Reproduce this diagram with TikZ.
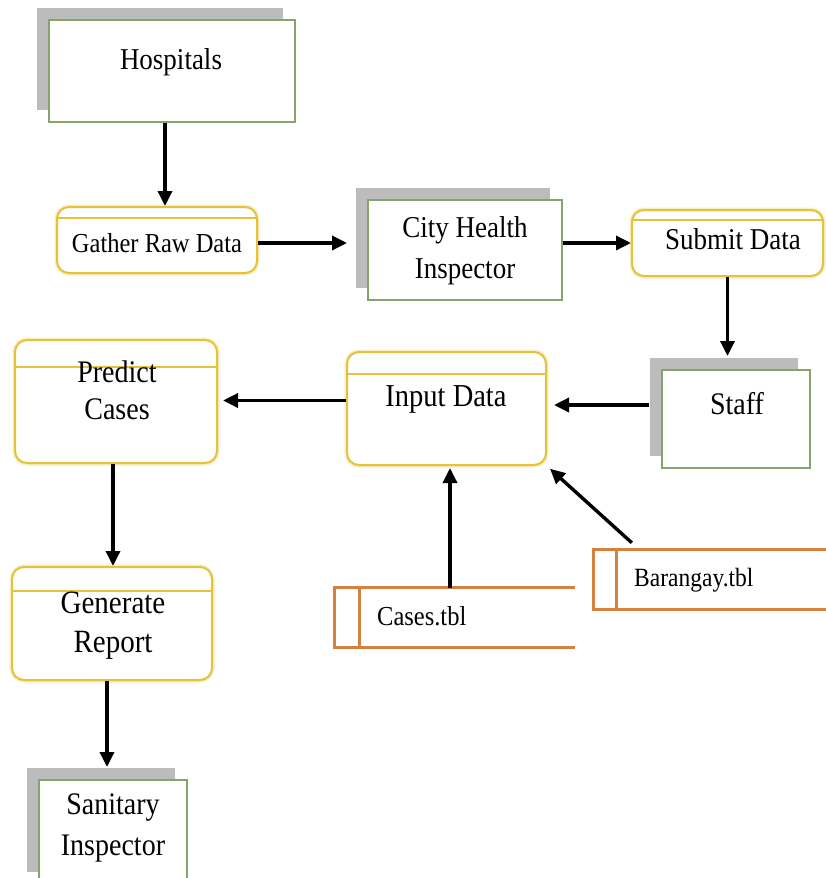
\documentclass[tikz,border=0pt]{standalone}
\usepackage{graphicx}
\usepackage{fontspec}
\setmainfont{Liberation Serif}
\usetikzlibrary{arrows.meta,shadows}
\definecolor{procyellow}{HTML}{E6C238}
\definecolor{entgreen}{HTML}{84A46B}
\definecolor{shadegray}{HTML}{BCBCBC}
\definecolor{storeorange}{HTML}{D6823F}
% slightly tall lettering, one or more centred lines
\newcommand{\tallbox}[1]{\scalebox{1}[1.12]{\begin{tabular}{@{}c@{}}#1\end{tabular}}}
\begin{document}
\begin{tikzpicture}[x=1pt,y=-1pt,
  txt/.style={font=\fontsize{28}{34}\selectfont, inner sep=0pt},
  entity/.style={draw=entgreen, line width=2pt, fill=white, inner sep=0pt,
    copy shadow={shadow xshift=-12pt, shadow yshift=12pt, fill=shadegray, draw=none}},
  process/.style={draw=procyellow, line width=2pt, fill=white, rounded corners=12pt,
    inner sep=0pt, preaction={draw=procyellow!30, line width=5pt}},
  header/.style={draw=procyellow, line width=2pt},
  store/.style={draw=storeorange, line width=3pt},
  storebox/.style={inner sep=0pt, minimum height=59pt},
  flow/.style={draw=black, line width=3.4pt, -{Triangle[length=15pt,width=14pt]}}
]
\useasboundingbox (0,0) rectangle (825,878);

% external entities
\node[entity, minimum width=246pt, minimum height=102pt] (hosp) at (172,71) {};
\node[txt, font=\fontsize{27}{34}\selectfont] (hospt) at (171,62) {\tallbox{Hospitals}};
\node[entity, minimum width=194pt, minimum height=100pt] (city) at (465,250) {};
\node[txt, font=\fontsize{27}{36}\selectfont] (cityt) at (465,250) {\tallbox{City Health\\Inspector}};
\node[entity, minimum width=148pt, minimum height=98pt] (staff) at (736,419) {};
\node[txt] (stafft) at (737,407) {\tallbox{Staff}};
\node[entity, minimum width=148pt, minimum height=104pt] (sanit) at (113,832) {};
\node[txt, font=\fontsize{28}{36}\selectfont] (sanitt) at (113,827) {\tallbox{Sanitary\\Inspector}};

% processes
\node[process, minimum width=200pt, minimum height=66pt] (gather) at (157,240) {};
\draw[header] ([yshift=-12pt]gather.north west) -- ([yshift=-12pt]gather.north east);
\node[txt, font=\fontsize{24.5}{30}\selectfont] (gathert) at (157,246) {\tallbox{Gather Raw Data}};

\node[process, minimum width=191pt, minimum height=66pt] (submit) at (727.5,243) {};
\draw[header] ([yshift=-11pt]submit.north west) -- ([yshift=-11pt]submit.north east);
\node[txt, font=\fontsize{27}{34}\selectfont] (submitt) at (733,242) {\tallbox{Submit Data}};

\node[process, minimum width=199pt, minimum height=113pt] (input) at (446.5,408.5) {};
\draw[header] ([yshift=-23pt]input.north west) -- ([yshift=-23pt]input.north east);
\node[txt, font=\fontsize{28.5}{34}\selectfont] (inputt) at (446,399) {\tallbox{Input Data}};

\node[process, minimum width=202pt, minimum height=123pt] (predict) at (116,401.5) {};
\draw[header] ([yshift=-28pt]predict.north west) -- ([yshift=-28pt]predict.north east);
\node[txt, font=\fontsize{28}{33}\selectfont] (predictt) at (117,393.5) {\tallbox{Predict\\Cases}};

\node[process, minimum width=200pt, minimum height=113pt] (generate) at (112,623.5) {};
\draw[header] ([yshift=-25pt]generate.north west) -- ([yshift=-25pt]generate.north east);
\node[txt, font=\fontsize{29}{35}\selectfont] (generatet) at (113,625) {\tallbox{Generate\\Report}};

% data stores (open on the right)
\node[storebox, minimum width=240pt] (cases) at (455,617.5) {};
\draw[store] (cases.north east) -- (cases.north west) -- (cases.south west) -- (cases.south east);
\draw[store] ([xshift=25pt]cases.north west) -- ([xshift=25pt]cases.south west);
\node[txt, anchor=west, font=\fontsize{24.5}{30}\selectfont] (casest) at (377,619) {\tallbox{Cases.tbl}};

\node[storebox, minimum width=240pt] (baran) at (714,579.5) {};
\draw[store] (baran.north east) -- (baran.north west) -- (baran.south west) -- (baran.south east);
\draw[store] ([xshift=23pt]baran.north west) -- ([xshift=23pt]baran.south west);
\node[txt, anchor=west, font=\fontsize{23.5}{30}\selectfont] (barant) at (634,580) {\tallbox{Barangay.tbl}};

% data flows
\draw[flow] ([xshift=-7pt]hosp.south) -- ([xshift=-7pt]hosp.south |- gather.north);
\draw[flow, shorten >=20pt] ([yshift=-3pt]gather.east) -- ([yshift=-3pt]gather.east -| city.west);
\draw[flow] (city.east |- submit.west) -- (submit.west);
\draw[flow, shorten >=13pt] (submit.south) -- (submit.south |- staff.north);
\draw[flow, shorten >=7pt] ([xshift=-12pt,yshift=14pt]staff.west)
  -- ([yshift=14pt]staff.west -| input.east);
\draw[flow, shorten >=5pt] ([yshift=8pt]input.west) -- ([yshift=8pt]input.west -| predict.east);
\draw[flow] ([xshift=-3pt]predict.south) -- ([xshift=-3pt]predict.south |- generate.north);
\draw[flow, shorten >=12pt] ([xshift=-5pt]generate.south) -- ([xshift=-5pt]generate.south |- sanit.north);
\draw[flow, shorten >=2pt] ([xshift=-5pt]cases.north) -- ([xshift=-5pt]cases.north |- input.south);
\draw[flow, shorten >=4pt] ([xshift=38pt,yshift=7pt]baran.north west) -- (input.south east);
\end{tikzpicture}
\end{document}
